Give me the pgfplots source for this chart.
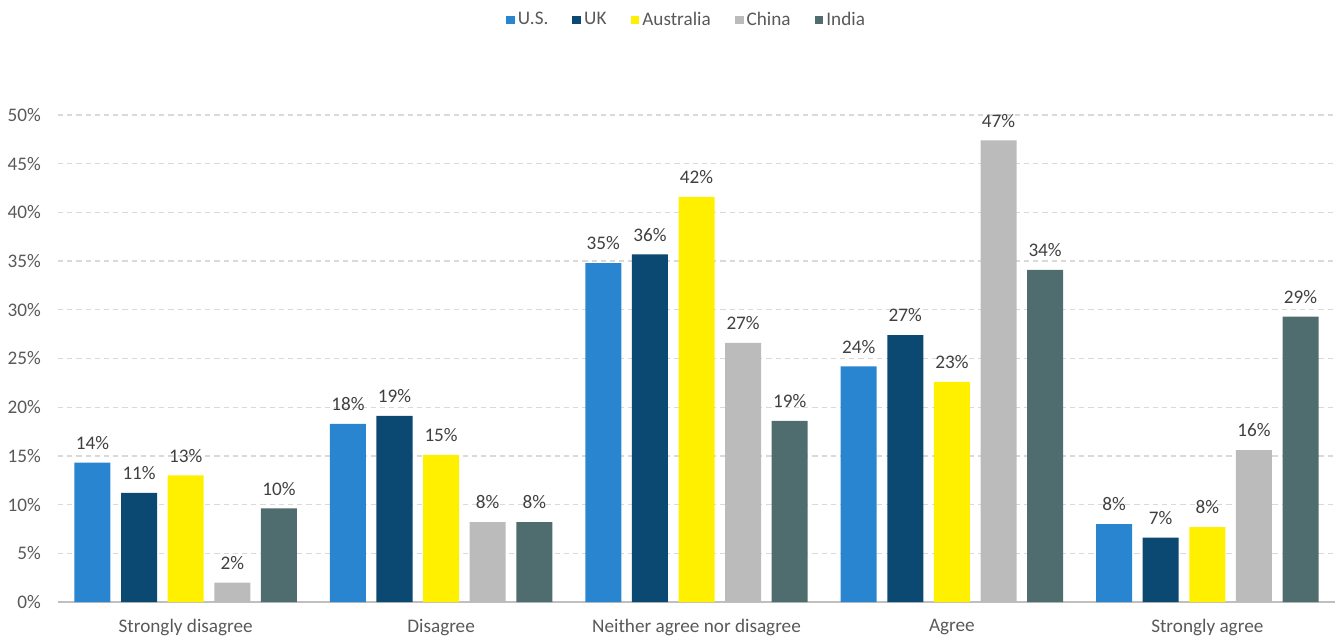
\documentclass[border=0pt]{standalone}
\usepackage{fontspec}
\setmainfont{Carlito}
\usepackage{pgfplots}
\pgfplotsset{compat=1.18}
\definecolor{cUS}{RGB}{41,133,207}
\definecolor{cUK}{RGB}{11,72,114}
\definecolor{cAU}{RGB}{255,240,0}
\definecolor{cCN}{RGB}{187,187,187}
\definecolor{cIN}{RGB}{79,108,110}
\definecolor{tick}{RGB}{89,89,89}
\definecolor{lab}{RGB}{64,64,64}
\definecolor{grid}{RGB}{217,217,217}
\definecolor{axisc}{RGB}{191,191,191}
\pgfplotsset{sq/.style={legend image code/.code={\fill[##1] (0pt,-2.2pt) rectangle (4.4pt,2.2pt);}}}
\begin{document}
\begin{tikzpicture}[font=\fontsize{9.6}{11.5}\selectfont]
\begin{axis}[
  scale only axis, width=638.5pt, height=243.5pt,
  xmin=-0.5, xmax=4.5, ymin=0, ymax=50,
  ybar=5.3pt, bar width=18pt,
  axis x line*=bottom, axis y line*=left,
  x axis line style={draw=axisc, line width=0.6pt},
  y axis line style={draw=none},
  major tick length=0pt,
  xtick={0,1,2,3,4},
  xticklabels={Strongly disagree, Disagree, Neither agree nor disagree, Agree, Strongly agree},
  x tick label style={text=tick, yshift=-5pt},
  ytick={0,5,...,50},
  yticklabel={\pgfmathprintnumber[assume math mode=true]{\tick}\%},
  y tick label style={text=tick, xshift=-5pt},
  ymajorgrids, grid style={draw=grid, line width=0.6pt, dash pattern=on 2.6pt off 2pt},
  nodes near coords={\pgfmathprintnumber[fixed,precision=0,assume math mode=true]{\pgfplotspointmeta}\%},
  nodes near coords style={text=lab, yshift=3pt},
  legend style={at={(0.493,1.195)}, anchor=center, draw=none, fill=none,
    legend columns=-1, text=tick,
    /tikz/every even column/.append style={column sep=10pt},
    /tikz/every odd column/.append style={column sep=-0.5pt}},
]
\addplot[fill=cUS, draw=none, sq] coordinates {(0,14.3) (1,18.3) (2,34.8) (3,24.2) (4,8.0)};
\addplot[fill=cUK, draw=none, sq] coordinates {(0,11.2) (1,19.1) (2,35.7) (3,27.4) (4,6.6)};
\addplot[fill=cAU, draw=none, sq] coordinates {(0,13.0) (1,15.1) (2,41.6) (3,22.6) (4,7.7)};
\addplot[fill=cCN, draw=none, sq] coordinates {(0,2.0) (1,8.2) (2,26.6) (3,47.4) (4,15.6)};
\addplot[fill=cIN, draw=none, sq] coordinates {(0,9.6) (1,8.2) (2,18.6) (3,34.1) (4,29.3)};
\legend{U.S., UK, Australia, China, India}
\end{axis}
\pgfresetboundingbox
\path ([shift={(-29pt,-18pt)}]current axis.south west) rectangle ([shift={(2pt,57.5pt)}]current axis.north east);
\end{tikzpicture}
\end{document}
